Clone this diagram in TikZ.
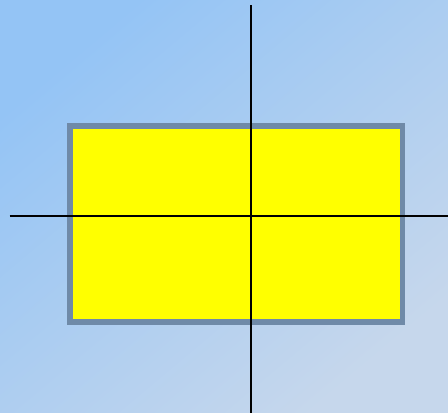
\documentclass[tikz,border=0pt]{standalone}
\begin{document}
\begin{tikzpicture}[x=1pt,y=-1pt]
\definecolor{bgA}{HTML}{94C4F5}
\definecolor{bgB}{HTML}{C6D7EC}
\definecolor{rim}{HTML}{6F8AA8}
\definecolor{yel}{RGB}{255,255,0}
\tikzset{box/.style={fill=yel,draw=rim,line width=5.5pt,outer sep=0pt},
  axis/.style={draw=black,line width=1.8pt}}
\useasboundingbox (0,0) rectangle (448,413);
\shade[top color=bgA,bottom color=bgB,shading angle=40] (0,0) rectangle (448,413);
\node[box,minimum width=332.3pt,minimum height=196pt,inner sep=0pt,anchor=north west] (r) at (70.2,126) {};
\coordinate (vt) at (251,5);
\coordinate (vb) at (251,413);
\coordinate (hl) at (9.5,216.3);
\coordinate (hr) at (448,216.3);
\draw[axis] (vt) -- (vb);
\draw[axis] (hl) -- (hr);
\end{tikzpicture}
\end{document}
